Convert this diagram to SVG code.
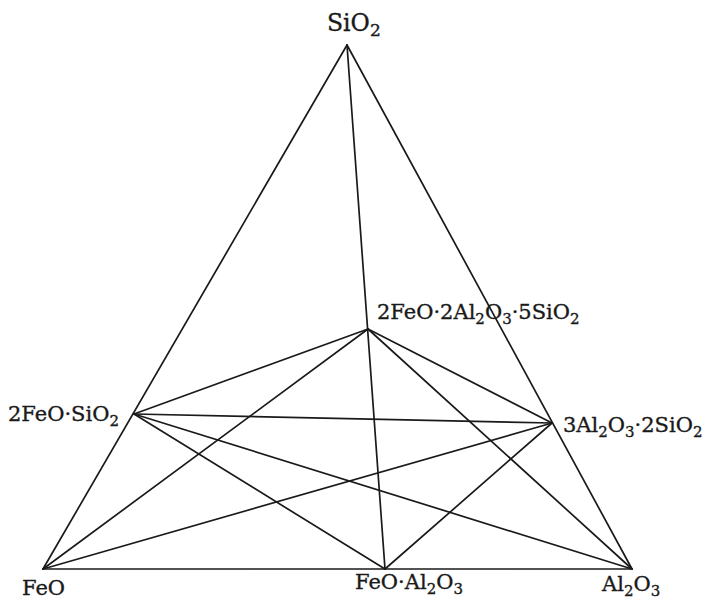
<svg xmlns="http://www.w3.org/2000/svg" width="708" height="603" viewBox="0 0 708 603">
<style>
.e{stroke:#1a1a1a;stroke-width:1.7;fill:none;stroke-linecap:round}
.t{font-family:"DejaVu Serif","Liberation Serif",serif;font-size:21px;fill:#1a1a1a;stroke:#1a1a1a;stroke-width:0.35}
.s{font-size:15px}
</style>
<rect width="708" height="603" fill="#ffffff"/>
<g id="connectors">
<line class="e" x1="43" y1="569" x2="347" y2="45"/>
<line class="e" x1="347" y1="45" x2="632" y2="569"/>
<line class="e" x1="43" y1="569" x2="632" y2="569"/>
<line class="e" x1="347" y1="45" x2="385" y2="569"/>
<line class="e" x1="368" y1="329" x2="134" y2="414"/>
<line class="e" x1="368" y1="329" x2="552" y2="423"/>
<line class="e" x1="368" y1="329" x2="43" y2="569"/>
<line class="e" x1="368" y1="329" x2="632" y2="569"/>
<line class="e" x1="134" y1="414" x2="552" y2="423"/>
<line class="e" x1="134" y1="414" x2="385" y2="569"/>
<line class="e" x1="134" y1="414" x2="632" y2="569"/>
<line class="e" x1="552" y1="423" x2="43" y2="569"/>
<line class="e" x1="552" y1="423" x2="385" y2="569"/>
</g>
<g id="n-sio2"><text class="t" x="327" y="31" style="font-size:23.5px">SiO<tspan style="font-size:17px" dy="5">2</tspan></text></g>
<g id="n-cordierite"><text class="t" x="377" y="319">2FeO·2Al<tspan class="s" dy="5">2</tspan><tspan dy="-5">O</tspan><tspan class="s" dy="5">3</tspan><tspan dy="-5">·5SiO</tspan><tspan class="s" dy="5">2</tspan></text></g>
<g id="n-fayalite"><text class="t" x="8" y="421">2FeO·SiO<tspan class="s" dy="5">2</tspan></text></g>
<g id="n-mullite"><text class="t" x="563" y="432">3Al<tspan class="s" dy="5">2</tspan><tspan dy="-5">O</tspan><tspan class="s" dy="5">3</tspan><tspan dy="-5">·2SiO</tspan><tspan class="s" dy="5">2</tspan></text></g>
<g id="n-feo"><text class="t" x="22" y="595">FeO</text></g>
<g id="n-hercynite"><text class="t" x="355" y="589">FeO·Al<tspan class="s" dy="5">2</tspan><tspan dy="-5">O</tspan><tspan class="s" dy="5">3</tspan></text></g>
<g id="n-al2o3"><text class="t" x="602" y="591">Al<tspan class="s" dy="5">2</tspan><tspan dy="-5">O</tspan><tspan class="s" dy="5">3</tspan></text></g>
</svg>
